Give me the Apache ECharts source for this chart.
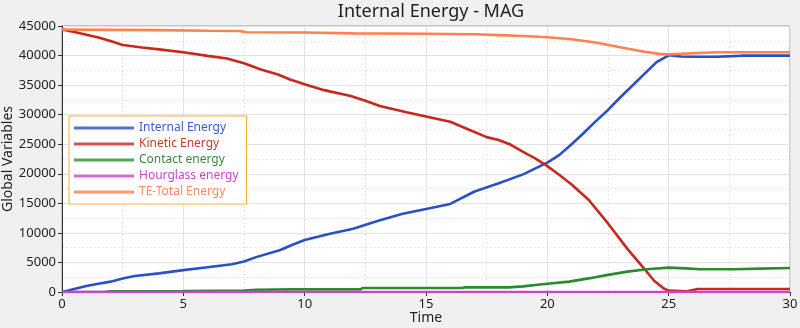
<!DOCTYPE html>
<html><head><meta charset="utf-8">
<script src="https://cdn.jsdelivr.net/npm/echarts@6/dist/echarts.min.js"></script>
<style>html,body{margin:0;padding:0;background:#f0f0f0}#c{width:800px;height:328px}</style>
</head><body><div id="c"></div>
<script>
const seriesNames = ['Internal Energy','Kinetic Energy','Contact energy','Hourglass energy','TE-Total Energy'];

const internalT = [0,0.5,1,1.5,2,2.5,3,4,5,6,7,7.5,8,9,9.5,10,11,12,13,14,15,16,17,18,19,19.7,20,20.5,21,21.5,22,22.5,23,23.5,24,24.5,25,25.5,26,27,27.6,28,30];
const internalV = [0,500,1000,1400,1750,2300,2700,3150,3700,4200,4700,5150,5900,7100,8000,8800,9800,10700,12000,13200,14050,14900,17000,18400,19900,21300,21900,23200,25000,26900,28900,30800,32900,34900,36900,38900,40050,39850,39800,39800,39900,39980,39980];

const kineticT = [0,0.6,1.5,2,2.5,3.3,4,5,6,6.8,7.5,8.2,8.9,9.4,10,10.8,11.9,12.5,13.1,14.2,15,16,16.8,17.5,18,18.5,19,19.5,20,20.5,21,21.7,22.5,23.3,24,24.4,24.8,25,25.7,26.2,30];
const kineticV = [44400,43900,43050,42450,41800,41350,41050,40550,39950,39500,38700,37650,36800,35950,35150,34150,33150,32350,31450,30400,29700,28800,27400,26200,25700,24900,23700,22600,21300,19800,18200,15600,11600,7300,3900,1900,600,230,100,500,500];

const contactT = [0,1.8,2,5,7.5,8,9.5,12.3,12.4,16.5,16.6,18.4,19,19.8,20.9,21.7,22.5,23.3,24.1,25,25.7,26.3,27.7,28.8,30];
const contactV = [0,50,100,150,250,380,450,450,680,680,790,790,950,1300,1750,2300,2900,3450,3850,4120,4000,3850,3850,3950,4060];

const hourglassT = [0,30];
const hourglassV = [0,0];

const totalT = [0,2,4,6,7.3,7.6,10,12,15,17,18,19,20,21,22,23,24,24.6,25,26,27,30];
const totalV = [44400,44350,44300,44200,44150,43950,43900,43750,43700,43600,43450,43300,43100,42750,42200,41400,40650,40280,40200,40380,40550,40550];

const xTicks = [0,5,10,15,20,25,30];
const yTicks = [0,5000,10000,15000,20000,25000,30000,35000,40000,45000];

const lineColors = ['#2a50c8','#c8281e','#2e8a2e','#cc44cc','#ff8050'];
const textColors = ['#3a5ccc','#c83a2a','#3a8a3a','#cc44cc','#ff8866'];

function pairs(t,v){return t.map((x,i)=>[x,v[i]]);}
const allT=[internalT,kineticT,contactT,hourglassT,totalT];
const allV=[internalV,kineticV,contactV,hourglassV,totalV];

const chart = echarts.init(document.getElementById('c'), null, {renderer:'canvas'});
const font = 'Noto Sans';
chart.setOption({
  backgroundColor:'#f0f0f0',
  animation:false,
  title:{text:'Internal Energy - MAG', left:426, textAlign:'center', top:-2,
    textStyle:{fontFamily:font, fontSize:18, fontWeight:'normal', color:'#222'}},
  grid:{left:62,right:10,top:26,bottom:36,containLabel:false,outerBoundsMode:'none',show:true,backgroundColor:'#ffffff',borderColor:'#999',borderWidth:1},
  legend:{orient:'vertical', left:69, top:116, padding:[5,8,5,5],
    backgroundColor:'#ffffff', borderColor:'#f5b030', borderWidth:1, borderRadius:0,
    itemWidth:60, itemHeight:3, itemGap:2, icon:'rect',
    textStyle:{fontFamily:font, fontSize:12, lineHeight:14},
    data: seriesNames.map((n,i)=>({name:n, textStyle:{color:textColors[i]}, itemStyle:{color:lineColors[i], opacity:0.8}}))},
  xAxis:{type:'value', min:0, max:30, interval:5, name:'Time', nameLocation:'middle', nameGap:19, nameMoveOverlap:false,
    nameTextStyle:{fontFamily:font, fontSize:14, color:'#222'},
    axisLine:{onZero:false, lineStyle:{color:'#333'}}, axisTick:{show:true, length:4, lineStyle:{color:'#333'}},
    axisLabel:{fontFamily:font, fontSize:13, color:'#222', margin:6, customValues:xTicks},
    splitLine:{show:true, lineStyle:{color:'#e2e2e2'}},
    minorTick:{show:false, splitNumber:2},
    minorSplitLine:{show:true, lineStyle:{color:'#e6e6e6', type:[2,2]}}},
  yAxis:{type:'value', min:0, max:45000, interval:5000, name:'Global Variables', nameLocation:'middle', nameGap:47, nameMoveOverlap:false,
    nameTextStyle:{fontFamily:font, fontSize:14, color:'#222'},
    axisLine:{show:true, lineStyle:{color:'#333'}}, axisTick:{show:true, length:4, lineStyle:{color:'#333'}},
    axisLabel:{fontFamily:font, fontSize:13, color:'#222', margin:6, customValues:yTicks, formatter:v=>String(v)},
    splitLine:{show:true, lineStyle:{color:'#e2e2e2'}},
    minorTick:{show:false, splitNumber:2},
    minorSplitLine:{show:true, lineStyle:{color:'#e6e6e6', type:[2,2]}}},
  series: seriesNames.map((n,i)=>({name:n, type:'line', data:pairs(allT[i],allV[i]), showSymbol:false, symbol:'none',
    lineStyle:{color:lineColors[i], width:2.6}, itemStyle:{color:lineColors[i]}, z: i===3?5:2}))
});
</script></body></html>
